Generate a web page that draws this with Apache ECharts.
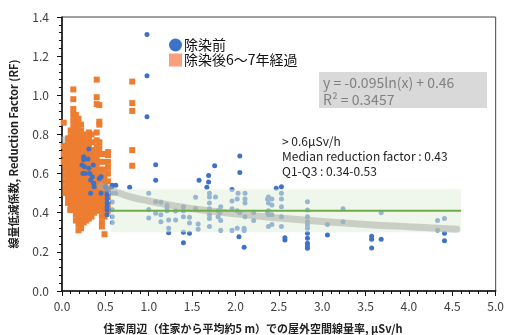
<!DOCTYPE html>
<html>
<head>
<meta charset="utf-8">
<script src="https://cdn.jsdelivr.net/npm/echarts@6/dist/echarts.min.js"></script>
<style>
    html, body { margin: 0; padding: 0; background: #fff; }
    #chart { width: 507px; height: 335px; }
</style>
</head>
<body>
<div id="chart"></div>
<script>
// 除染前 [空間線量率, RF]
const beforePoints = [
    [0.98, 1.31], [0.98, 1.10], [0.98, 0.89],
    [1.08, 0.645], [1.08, 0.566], [1.00, 0.50], [1.00, 0.417], [1.00, 0.373], [1.08, 0.456], [1.14, 0.453],
    [1.08, 0.397], [1.14, 0.39], [1.14, 0.354],
    [1.21, 0.44], [1.21, 0.425], [1.21, 0.41], [1.23, 0.363], [1.23, 0.32], [1.23, 0.298],
    [1.31, 0.409], [1.31, 0.363],
    [1.40, 0.43], [1.40, 0.41], [1.40, 0.38], [1.40, 0.30], [1.40, 0.247],
    [1.47, 0.377], [1.47, 0.347], [1.47, 0.295],
    [1.54, 0.479], [1.54, 0.42], [1.57, 0.342], [1.57, 0.315], [1.58, 0.566],
    [1.67, 0.53], [1.69, 0.59], [1.69, 0.557],
    [1.70, 0.50], [1.70, 0.48], [1.70, 0.45], [1.70, 0.42], [1.70, 0.39], [1.70, 0.37], [1.70, 0.33],
    [1.76, 0.64], [1.77, 0.48], [1.80, 0.41], [1.80, 0.38], [1.82, 0.40], [1.83, 0.36], [1.83, 0.43], [1.83, 0.31],
    [1.96, 0.518], [1.96, 0.46], [1.96, 0.42], [1.96, 0.31],
    [2.02, 0.47], [2.02, 0.41], [2.02, 0.32], [2.03, 0.50], [2.04, 0.277], [2.05, 0.69], [2.05, 0.606], [2.05, 0.40],
    [2.10, 0.32], [2.10, 0.31], [2.10, 0.223], [2.11, 0.50], [2.11, 0.47], [2.11, 0.45], [2.11, 0.38],
    [2.21, 0.40], [2.21, 0.36], [2.37, 0.47], [2.37, 0.40],
    [2.38, 0.48], [2.38, 0.45], [2.38, 0.41], [2.38, 0.39], [2.38, 0.33],
    [2.42, 0.47], [2.42, 0.44], [2.42, 0.39], [2.42, 0.34],
    [2.47, 0.525], [2.53, 0.533], [2.53, 0.50], [2.53, 0.47], [2.53, 0.43], [2.53, 0.38], [2.53, 0.33],
    [2.57, 0.272], [2.57, 0.26],
    [2.83, 0.456], [2.83, 0.414], [2.83, 0.38], [2.83, 0.354], [2.83, 0.337], [2.83, 0.32],
    [2.83, 0.295], [2.83, 0.27], [2.83, 0.244], [2.83, 0.23], [2.83, 0.218],
    [3.06, 0.34], [3.06, 0.286], [3.24, 0.42], [3.24, 0.354],
    [3.57, 0.28], [3.57, 0.264], [3.57, 0.22], [3.68, 0.264], [3.68, 0.40],
    [4.33, 0.36], [4.33, 0.31], [4.41, 0.37], [4.41, 0.295], [4.41, 0.257],
    [0.58, 0.54], [0.58, 0.50], [0.58, 0.455], [0.58, 0.415], [0.58, 0.38], [0.58, 0.35],
    [0.62, 0.54], [0.62, 0.50], [0.78, 0.53],
    [0.51, 0.53], [0.52, 0.507], [0.52, 0.49], [0.52, 0.47], [0.52, 0.45], [0.52, 0.43], [0.52, 0.414], [0.52, 0.39],
    [0.45, 0.584], [0.45, 0.50], [0.57, 0.53],
    [0.30, 0.674], [0.25, 0.67], [0.23, 0.644], [0.26, 0.635], [0.31, 0.627], [0.32, 0.60], [0.35, 0.584],
    [0.33, 0.567], [0.365, 0.55], [0.37, 0.533], [0.33, 0.50], [0.43, 0.575], [0.50, 0.533],
    [0.24, 0.60], [0.27, 0.60], [0.31, 0.726], [0.25, 0.686], [0.36, 0.644]
];

// 除染後6～7年経過：列ごとの x と RF
const afterColX = [0.02, 0.04, 0.07, 0.095, 0.10, 0.13, 0.16, 0.19, 0.22, 0.25, 0.28, 0.31, 0.34, 0.37, 0.40, 0.43, 0.46, 0.49, 0.53, 0.81];
const afterColY = [
    [0.86, 0.74, 0.70, 0.66],
    [0.74, 0.71, 0.68, 0.65, 0.62, 0.59, 0.56, 0.53, 0.50],
    [0.78, 0.75, 0.72, 0.69, 0.66, 0.63, 0.60, 0.57, 0.54, 0.51, 0.48, 0.45],
    [0.414],
    [0.82, 0.79, 0.76, 0.73, 0.70, 0.67, 0.64, 0.61, 0.58, 0.55, 0.52, 0.49, 0.46, 0.43],
    [1.03, 0.98, 0.93, 0.90, 0.87, 0.84, 0.81, 0.78, 0.75, 0.72, 0.69, 0.66, 0.63, 0.60, 0.57, 0.54, 0.51, 0.48, 0.45, 0.42],
    [0.90, 0.87, 0.84, 0.81, 0.78, 0.75, 0.72, 0.69, 0.66, 0.63, 0.60, 0.57, 0.54, 0.51, 0.48, 0.45, 0.42, 0.39, 0.36],
    [0.88, 0.85, 0.82, 0.79, 0.76, 0.73, 0.70, 0.67, 0.64, 0.61, 0.58, 0.55, 0.52, 0.49, 0.46, 0.43, 0.40, 0.37, 0.34, 0.31],
    [0.85, 0.82, 0.79, 0.76, 0.73, 0.70, 0.67, 0.64, 0.61, 0.58, 0.55, 0.52, 0.49, 0.46, 0.43, 0.40, 0.37, 0.34, 0.32],
    [0.80, 0.77, 0.74, 0.71, 0.68, 0.65, 0.62, 0.59, 0.56, 0.53, 0.50, 0.47, 0.44, 0.41, 0.38, 0.35],
    [0.78, 0.75, 0.72, 0.69, 0.66, 0.63, 0.60, 0.57, 0.54, 0.51, 0.48, 0.45, 0.42, 0.39, 0.36],
    [0.81, 0.78, 0.75, 0.70, 0.66, 0.62, 0.58, 0.55, 0.52, 0.49, 0.46, 0.43, 0.40, 0.37],
    [0.80, 0.76, 0.72, 0.68, 0.64, 0.61, 0.58, 0.55, 0.52, 0.49, 0.46, 0.43, 0.40, 0.38],
    [0.72, 0.69, 0.66, 0.63, 0.60, 0.57, 0.54, 0.51, 0.48, 0.45, 0.42, 0.40],
    [1.08, 0.99, 0.955, 0.81, 0.77, 0.74, 0.71, 0.68, 0.65, 0.62, 0.59, 0.56, 0.53, 0.50, 0.47, 0.44, 0.41],
    [0.95, 0.865, 0.85, 0.76, 0.73, 0.70, 0.66, 0.62, 0.58, 0.55, 0.52, 0.49, 0.46, 0.43],
    [0.62, 0.59, 0.56, 0.53, 0.50, 0.47, 0.44, 0.41, 0.38, 0.35, 0.33],
    [0.70, 0.66, 0.62, 0.58, 0.55, 0.52, 0.49, 0.46, 0.43, 0.40, 0.38, 0.29],
    [0.71, 0.695, 0.66, 0.63, 0.60, 0.56, 0.52, 0.48, 0.44, 0.41],
    [1.07, 0.96, 0.92, 0.72, 0.64]
];

// 近似曲線 y = -0.095ln(x) + 0.46
const trendX = [0.03, 0.05, 0.1, 0.2, 0.3, 0.45, 0.6, 0.8, 1.0, 1.3, 1.6, 2.0, 2.5, 3.0, 3.5, 4.0, 4.55];
const trendY = [0.79, 0.745, 0.68, 0.61, 0.575, 0.536, 0.51, 0.48, 0.46, 0.435, 0.415, 0.394, 0.373, 0.355, 0.34, 0.328, 0.316];

// > 0.6μSv/h の中央値と四分位範囲
const medianX = [0.56, 4.6];
const medianY = 0.41;
const bandY = [0.30, 0.52];

const xTicks = { min: 0, max: 5, interval: 0.5 };
const yTicks = { min: 0, max: 1.4, interval: 0.2 };

const afterPoints = [];
afterColX.forEach(function(x, i) {
    afterColY[i].forEach(function(y) { afterPoints.push([x, y]); });
});
const trendPts = trendX.map(function(x, i) { return [x, trendY[i]]; });
const trendLow = trendPts.filter(function(p) { return p[0] <= 0.45; });
const trendHigh = trendPts.filter(function(p) { return p[0] >= 0.45; });

const font = '"Noto Sans CJK JP", "Noto Sans", sans-serif';

const chart = echarts.init(document.getElementById('chart'));
chart.setOption({
    animation: false,
    textStyle: { fontFamily: font },
    grid: {
        left: 61, right: 8, top: 17, bottom: 44,
        show: true, borderColor: '#444', borderWidth: 1
    },
    legend: {
        orient: 'vertical',
        left: 164,
        top: 33,
        itemGap: 1,
        itemWidth: 13,
        itemHeight: 13,
        textStyle: { fontSize: 14, lineHeight: 14, color: '#111', fontFamily: font, padding: [0, 0, 0, -3] },
        data: [
            { name: '除染前', icon: 'circle' },
            { name: '除染後6～7年経過', icon: 'rect', itemStyle: { color: '#F8A07C' } }
        ]
    },
    xAxis: {
        type: 'value',
        min: xTicks.min, max: xTicks.max, interval: xTicks.interval,
        splitLine: { show: false },
        axisLine: { lineStyle: { color: '#111', width: 1.5 } },
        axisTick: { length: 5, lineStyle: { color: '#111' } },
        minorTick: { show: true, splitNumber: 5, length: 3, lineStyle: { color: '#111' } },
        axisLabel: {
            margin: 9, fontSize: 12, color: '#404040', fontFamily: font,
            formatter: function(v) { return v.toFixed(1); }
        }
    },
    yAxis: {
        type: 'value',
        min: yTicks.min, max: yTicks.max, interval: yTicks.interval,
        splitLine: { show: false },
        axisLine: { show: true, lineStyle: { color: '#111', width: 1.5 } },
        axisTick: { show: true, length: 5, lineStyle: { color: '#111' } },
        minorTick: { show: true, splitNumber: 5, length: 3, lineStyle: { color: '#111' } },
        axisLabel: {
            margin: 13, fontSize: 12, color: '#404040', fontFamily: font,
            formatter: function(v) { return v.toFixed(1); }
        },
        name: '線量低減係数, Reduction Factor (RF)',
        nameLocation: 'middle',
        nameGap: 43,
        nameTextStyle: { fontSize: 11, fontWeight: 'bold', color: '#222', fontFamily: font }
    },
    series: [
        {
            type: 'line',
            data: trendLow,
            smooth: true,
            symbol: 'none',
            z: 1,
            lineStyle: { color: 'rgba(170,175,165,0.55)', width: 7 }
        },
        {
            name: '除染後6～7年経過',
            type: 'scatter',
            data: afterPoints,
            symbol: 'rect',
            symbolSize: 6,
            z: 2,
            itemStyle: { color: '#ED7D31', opacity: 1 }
        },
        {
            name: '除染前',
            type: 'scatter',
            data: beforePoints,
            symbol: 'circle',
            symbolSize: 5,
            z: 3,
            itemStyle: { color: '#3F72C6', opacity: 1 }
        },
        {
            // 四分位範囲の帯（点の上に半透明で重ねる）
            type: 'custom',
            z: 4,
            silent: true,
            data: [[medianX[0], bandY[0], medianX[1], bandY[1]]],
            renderItem: function(params, api) {
                const p0 = api.coord([api.value(0), api.value(3)]);
                const p1 = api.coord([api.value(2), api.value(1)]);
                return {
                    type: 'rect',
                    shape: { x: p0[0], y: p0[1], width: p1[0] - p0[0], height: p1[1] - p0[1] },
                    style: { fill: 'rgba(226,239,218,0.55)' }
                };
            }
        },
        {
            type: 'line',
            data: trendHigh,
            smooth: true,
            symbol: 'none',
            z: 5,
            lineStyle: { color: 'rgba(170,175,165,0.55)', width: 7, cap: 'round' }
        },
        {
            type: 'line',
            data: medianX.map(function(x) { return [x, medianY]; }),
            symbol: 'none',
            z: 6,
            lineStyle: { color: '#6DAD45', width: 2 }
        }
    ],
    graphic: [
        {
            type: 'rect',
            shape: { x: 319, y: 72, width: 168, height: 36 },
            style: { fill: '#d9d9d9' },
            z: 10
        },
        {
            type: 'text',
            x: 323, y: 74,
            z: 11,
            style: {
                text: 'y = -0.095ln(x) + 0.46\nR² = 0.3457',
                fill: '#808080',
                font: '14px ' + font,
                lineHeight: 17
            }
        },
        {
            type: 'text',
            x: 282, y: 134,
            z: 11,
            style: {
                text: '> 0.6μSv/h\nMedian reduction factor : 0.43\nQ1-Q3 : 0.34-0.53',
                fill: '#222',
                font: '12px ' + font,
                lineHeight: 15
            }
        },
        {
            type: 'text',
            x: 253, y: 329,
            z: 11,
            style: {
                text: '住家周辺（住家から平均約5 m）での屋外空間線量率, μSv/h',
                fill: '#222',
                font: 'bold 11px ' + font,
                textAlign: 'center',
                textVerticalAlign: 'middle'
            }
        }
    ]
});
</script>
</body>
</html>
